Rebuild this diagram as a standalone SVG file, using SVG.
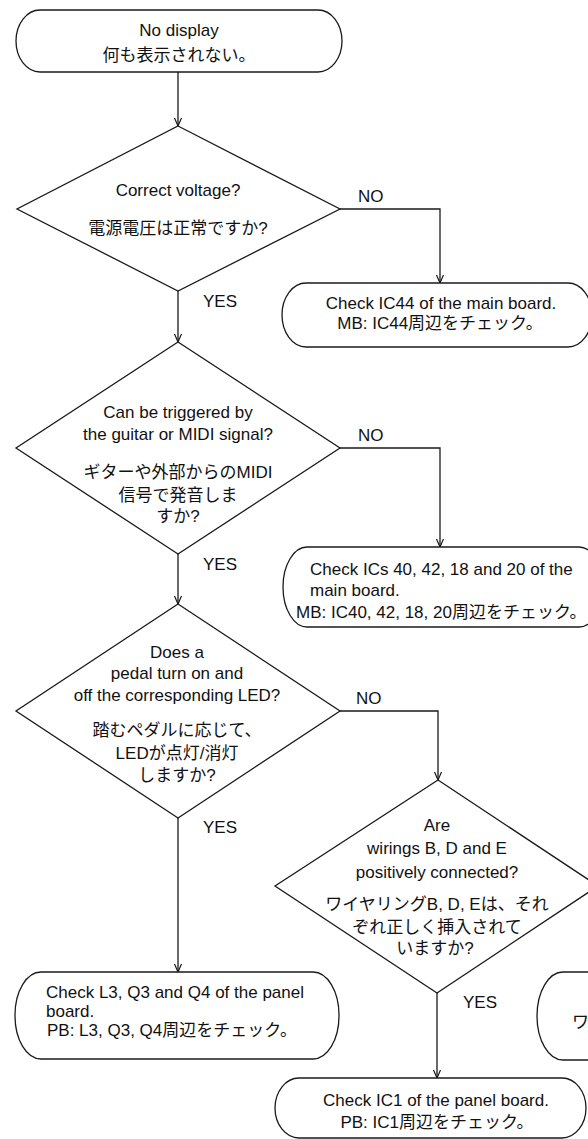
<svg xmlns="http://www.w3.org/2000/svg" width="588" height="1139" viewBox="0 0 588 1139">
<defs>
<style>
.shape{fill:#fff;stroke:#1a1a1a;stroke-width:1.3}
.conn{fill:none;stroke:#1a1a1a;stroke-width:1.3}
text{font-family:"Liberation Sans","Noto Sans CJK JP",sans-serif;font-size:17px;fill:#111}
.c{text-anchor:middle}
</style>
<marker id="arr" viewBox="-9 -5 10 10" markerWidth="10" markerHeight="10" refX="0" refY="0" orient="auto" markerUnits="userSpaceOnUse">
<path d="M-8,-3.5 L0,0 L-8,3.5" fill="none" stroke="#1a1a1a" stroke-width="1.2"/>
</marker>
</defs>
<rect width="588" height="1139" fill="#fff"/>
<g id="connectors">
<path class="conn" d="M178,72 V126" marker-end="url(#arr)"/>
<path class="conn" d="M340,209 H440 V283" marker-end="url(#arr)"/>
<path class="conn" d="M178,291 V342" marker-end="url(#arr)"/>
<path class="conn" d="M340,448 H440 V547" marker-end="url(#arr)"/>
<path class="conn" d="M178,554 V604" marker-end="url(#arr)"/>
<path class="conn" d="M340,711 H438 V780" marker-end="url(#arr)"/>
<path class="conn" d="M178,818 V972" marker-end="url(#arr)"/>
<path class="conn" d="M437,993 V1078" marker-end="url(#arr)"/>
<text x="358" y="202">NO</text>
<text x="203" y="307">YES</text>
<text x="358" y="441">NO</text>
<text x="203" y="570">YES</text>
<text x="356" y="704">NO</text>
<text x="203" y="833">YES</text>
<text x="463" y="1008">YES</text>
</g>
<g id="start">
<rect class="shape" x="16" y="10" width="326" height="62" rx="24" ry="31"/>
<text class="c" x="179" y="36">No display</text>
<text class="c" x="179" y="61">何も表示されない。</text>
</g>
<g id="d1">
<polygon class="shape" points="178,126 340,209 178,291 17,209"/>
<text class="c" x="178" y="196">Correct voltage?</text>
<text class="c" x="178" y="234">電源電圧は正常ですか?</text>
</g>
<g id="n2">
<rect class="shape" x="282" y="283" width="310" height="64" rx="24" ry="32"/>
<text class="c" x="441" y="309">Check IC44 of the main board.</text>
<text class="c" x="440" y="329">MB: IC44周辺をチェック。</text>
</g>
<g id="d2">
<polygon class="shape" points="178,342 340,448 178,554 16,448"/>
<text class="c" x="178" y="418">Can be triggered by</text>
<text class="c" x="178" y="440">the guitar or MIDI signal?</text>
<text class="c" x="178" y="478">ギターや外部からのMIDI</text>
<text class="c" x="178" y="501">信号で発音しま</text>
<text class="c" x="178" y="522">すか?</text>
</g>
<g id="n3">
<rect class="shape" x="283" y="547" width="320" height="80" rx="24" ry="40"/>
<text x="310" y="575">Check ICs 40, 42, 18 and 20 of the</text>
<text x="310" y="596">main board.</text>
<text x="296" y="618">MB: IC40, 42, 18, 20周辺をチェック。</text>
</g>
<g id="d3">
<polygon class="shape" points="178,604 340,711 178,818 16,711"/>
<text class="c" x="177" y="658">Does a</text>
<text class="c" x="177" y="679">pedal turn on and</text>
<text class="c" x="177" y="701">off the corresponding LED?</text>
<text class="c" x="177" y="736">踏むペダルに応じて、</text>
<text class="c" x="177" y="759">LEDが点灯/消灯</text>
<text class="c" x="177" y="781">しますか?</text>
</g>
<g id="d4">
<polygon class="shape" points="438,780 598,886 437,993 275,886"/>
<text class="c" x="437" y="831">Are</text>
<text class="c" x="437" y="854">wirings B, D and E</text>
<text class="c" x="437" y="878">positively connected?</text>
<text class="c" x="437" y="910">ワイヤリングB, D, Eは、それ</text>
<text class="c" x="437" y="933">ぞれ正しく挿入されて</text>
<text class="c" x="435" y="954">いますか?</text>
</g>
<g id="n5">
<rect class="shape" x="15" y="972" width="324" height="87" rx="26" ry="43"/>
<text x="46" y="998">Check L3, Q3 and Q4 of the panel</text>
<text x="46" y="1017">board.</text>
<text x="47" y="1036">PB: L3, Q3, Q4周辺をチェック。</text>
</g>
<g id="n6">
<rect class="shape" x="275" y="1078" width="311" height="60" rx="24" ry="30"/>
<text class="c" x="436" y="1106">Check IC1 of the panel board.</text>
<text class="c" x="437" y="1128">PB: IC1周辺をチェック。</text>
</g>
<g id="n7">
<rect class="shape" x="537" y="972" width="120" height="88" rx="26" ry="44"/>
<text x="572" y="1028">ワ</text>
</g>
</svg>
